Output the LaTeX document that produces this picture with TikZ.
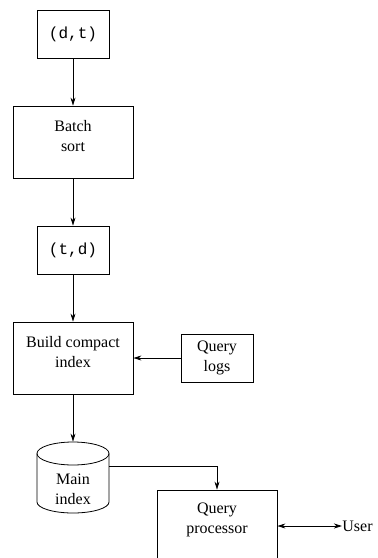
\documentclass[tikz,border=0pt]{standalone}
\usepackage{fontspec}
\setmainfont{Liberation Serif}
\setmonofont{Liberation Mono}
\usetikzlibrary{arrows.meta}
\begin{document}
\begin{tikzpicture}[x=1pt,y=1pt,
  line width=0.8pt,
  every node/.style={font=\fontsize{16}{20}\selectfont, inner sep=0pt},
  stepbox/.style={draw, minimum width=120pt, minimum height=72pt},
  databox/.style={draw, minimum width=72pt, minimum height=48pt, font=\fontsize{16}{20}\selectfont\ttfamily},
  logbox/.style={draw, minimum width=72pt, minimum height=48pt},
  txt/.style={align=center},
  arr/.style={-{Stealth[length=8pt,width=5pt,inset=2.5pt]}},
  darr/.style={{Stealth[length=8pt,width=5pt,inset=2.5pt]}-{Stealth[length=8pt,width=5pt,inset=2.5pt]}}
]
\useasboundingbox (0,0) rectangle (378,-558);

% boxes
\node[databox] (dt) at (73,-34) {(d,t)};
\node[stepbox] (batch) at (73,-142) {};
\node[txt] (batchtxt) at (73,-136) {Batch\\sort};
\node[databox] (td) at (73,-250) {(t,d)};
\node[stepbox] (build) at (73,-358) {};
\node[txt] (buildtxt) at (73,-352) {Build compact\\index};
\node[logbox] (logs) at (217,-358) {};
\node[txt] (logstxt) at (217,-358) {Query\\logs};

% main index cylinder
\node[minimum width=72pt, minimum height=71pt] (main) at (73,-477.5) {};
\draw (37,-453.5) -- (37,-502)
      arc[start angle=180, end angle=360, x radius=36pt, y radius=11pt]
      -- (109,-453.5);
\draw (73,-453.5) ellipse[x radius=36pt, y radius=11.5pt];
\node[txt] (maintxt) at (73,-489) {Main\\index};

% query processor (runs past the lower edge)
\node[stepbox] (qp) at (217,-526) {};
\node[txt] (qptxt) at (217,-520) {Query\\processor};
\coordinate (userend) at (342,-526);
\node[anchor=west] (user) at (userend) {User};

% connectors
\draw[arr] (dt) -- (batch);
\draw[arr] (batch) -- (td);
\draw[arr] (td) -- (build);
\draw[arr] (logs) -- (build);
\draw[arr] (build) -- (main.north);
\draw[arr] ([yshift=11.5pt]main.east) -| (qp.north);
\draw[darr] (qp.east) -- (userend);
\end{tikzpicture}
\end{document}
